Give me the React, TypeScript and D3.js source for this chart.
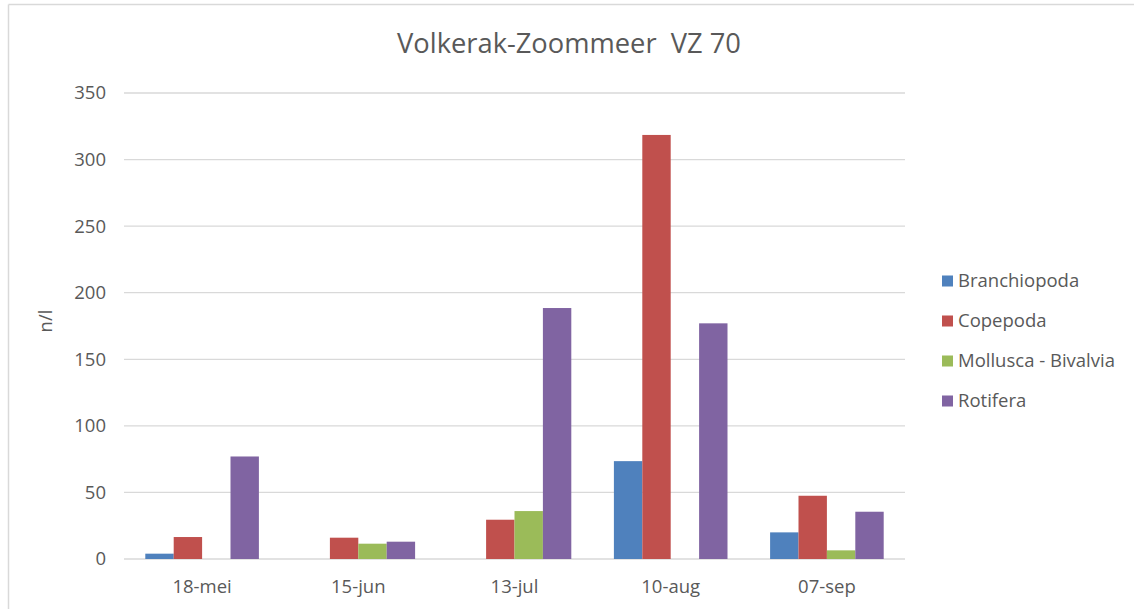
import * as d3 from "d3";
import { useEffect, useRef } from "react";

const categories = ["18-mei", "15-jun", "13-jul", "10-aug", "07-sep"];
const seriesNames = ["Branchiopoda", "Copepoda", "Mollusca - Bivalvia", "Rotifera"];
const branchiopoda = [4, 0, 0, 73.5, 20];
const copepoda = [16.5, 16, 29.5, 318.5, 47.5];
const bivalvia = [0, 11.5, 36, 0, 6.5];
const rotifera = [77, 13, 188.5, 177, 35.5];
const yTicks = [0, 50, 100, 150, 200, 250, 300, 350];
const colors = ["#4f81bd", "#c0504d", "#9bbb59", "#8064a2"];

const FONT = "'Open Sans', sans-serif";
const TEXT = "#595959";

export default function App() {
  const svgRef = useRef<SVGSVGElement | null>(null);

  useEffect(() => {
    const width = 1134;
    const height = 609;
    const svg = d3.select(svgRef.current).attr("width", width).attr("height", height);
    svg.selectAll("*").remove();

    const seriesValues = [branchiopoda, copepoda, bivalvia, rotifera];
    const margin = { left: 124, right: 229, top: 93, bottom: 50 };

    // chart frame (only top and left edges visible)
    svg.append("line").attr("x1", 8.5).attr("x2", width).attr("y1", 4.5).attr("y2", 4.5)
      .attr("stroke", "#d9d9d9").attr("stroke-width", 1.5);
    svg.append("line").attr("x1", 8.5).attr("x2", 8.5).attr("y1", 4.5).attr("y2", height)
      .attr("stroke", "#d9d9d9").attr("stroke-width", 1.5);

    const x = d3.scaleBand().domain(categories)
      .range([margin.left, width - margin.right]).paddingInner(0).paddingOuter(0);
    const y = d3.scaleLinear().domain([0, 350]).range([559, margin.top]);

    const bandW = x.bandwidth();
    const barW = bandW / 5.5;
    const groupOffset = (bandW - barW * 4) / 2;

    // gridlines
    svg.append("g").selectAll("line").data(yTicks).enter().append("line")
      .attr("x1", margin.left).attr("x2", width - margin.right)
      .attr("y1", d => y(d)).attr("y2", d => y(d))
      .attr("stroke", "#d9d9d9").attr("stroke-width", 1.3);

    svg.append("g").selectAll("text").data(yTicks).enter().append("text")
      .attr("x", 106).attr("y", d => y(d)).attr("dy", "0.35em")
      .attr("text-anchor", "end").attr("font-family", FONT).attr("font-size", 18.5)
      .attr("fill", TEXT).text(d => d);

    // bars
    seriesValues.forEach((vals, si) => {
      svg.append("g").selectAll("rect").data(vals).enter().append("rect")
        .attr("x", (_, i) => (x(categories[i]) ?? 0) + groupOffset + si * barW)
        .attr("width", barW)
        .attr("y", d => y(d))
        .attr("height", d => y(0) - y(d))
        .attr("fill", colors[si]);
    });

    // x labels
    svg.append("g").selectAll("text").data(categories).enter().append("text")
      .attr("x", d => (x(d) ?? 0) + bandW / 2).attr("y", 593)
      .attr("text-anchor", "middle").attr("font-family", FONT).attr("font-size", 18.5)
      .attr("fill", TEXT).text(d => d);

    // title
    svg.append("text").attr("x", 569).attr("y", 53).attr("text-anchor", "middle")
      .attr("font-family", FONT).attr("font-size", 27.3).attr("fill", TEXT)
      .attr("xml:space", "preserve").style("white-space", "pre")
      .text("Volkerak-Zoommeer  VZ 70");

    // y axis title
    svg.append("text").attr("transform", "translate(52,321) rotate(-90)")
      .attr("text-anchor", "middle").attr("font-family", FONT).attr("font-size", 18.5)
      .attr("fill", TEXT).text("n/l");

    // legend
    const legend = svg.append("g").selectAll("g").data(seriesNames).enter().append("g")
      .attr("transform", (_, i) => `translate(942,${281 + i * 40})`);
    legend.append("rect").attr("x", 0).attr("y", -5.5).attr("width", 11).attr("height", 11)
      .attr("fill", (_, i) => colors[i]);
    legend.append("text").attr("x", 16).attr("y", 0).attr("dy", "0.35em")
      .attr("font-family", FONT).attr("font-size", 18.5).attr("fill", TEXT)
      .text(d => d);
  }, []);

  return (
    <svg ref={svgRef} style={{ position: "absolute", left: 0, top: 0, background: "#fff" }}></svg>
  );
}
